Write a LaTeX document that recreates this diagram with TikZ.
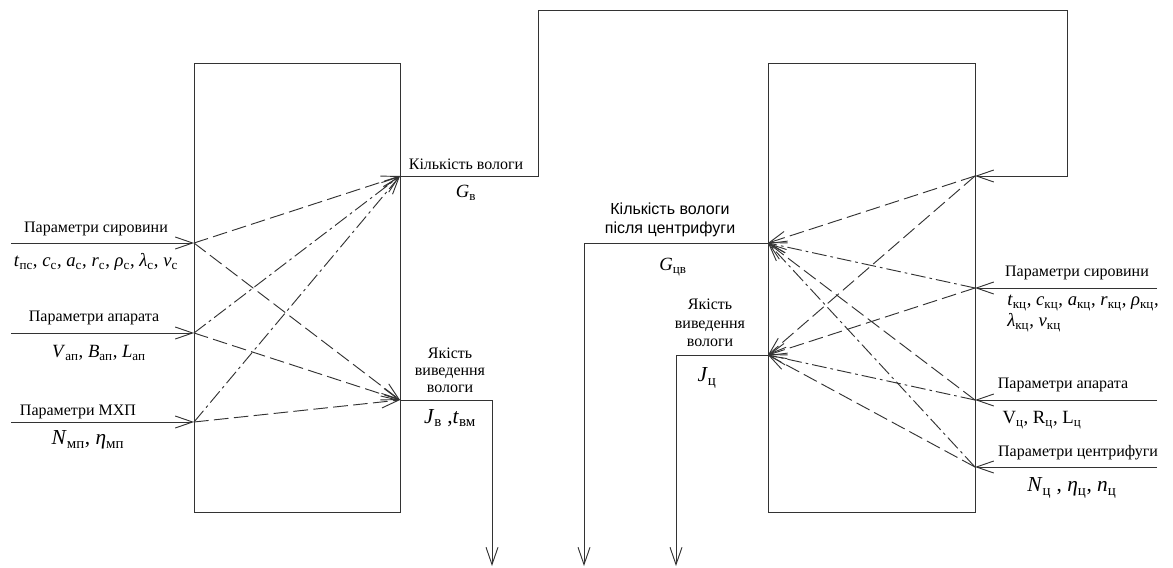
\documentclass[tikz,border=0pt]{standalone}
\usepackage{fontspec}
\setmainfont{Liberation Serif}
\newfontfamily\arialfont{Liberation Sans}
\usepackage{tikz}
\usetikzlibrary{arrows.meta}
\tikzstyle{block} = [rectangle, draw=black!80, line width=0.7pt, inner sep=0pt]
\tikzstyle{line} = [draw=black!80, line width=0.7pt, -{Straight Barb[length=13pt,width=9pt]}]
\tikzstyle{wire} = [draw=black!80, line width=0.7pt]
\tikzstyle{link} = [line, dash pattern=on 11pt off 4pt]
\tikzstyle{linkdot} = [line, dash pattern=on 11pt off 3pt on 2pt off 3pt]
\tikzstyle{txt} = [inner sep=0pt, font=\fontsize{12}{13}\selectfont]
\tikzstyle{param} = [inner sep=0pt, font=\fontsize{14}{15.75}\selectfont]
\tikzstyle{bigparam} = [inner sep=0pt, font=\fontsize{16}{18}\selectfont]
\newcommand{\ix}[2]{\textit{#1}\textsubscript{#2}}

\begin{document}
\begin{tikzpicture}[x=0.75pt, y=-0.75pt]
    \useasboundingbox (0,0) rectangle (1173,567);
    % Place nodes
    \node [block, minimum width=154.5pt, minimum height=336.75pt] (dryer) at (297,287.5) {};
    \node [block, minimum width=155.25pt, minimum height=336.75pt] (centrifuge) at (871.5,287.5) {};

    % ports of the dryer
    \coordinate (dIn1) at (194,243);
    \coordinate (dIn2) at (194,333);
    \coordinate (dIn3) at (194,422);
    \coordinate (dOut1) at (400,176);
    \coordinate (dOut2) at (400,400);
    % ports of the centrifuge
    \coordinate (cIn0) at (975,176);
    \coordinate (cIn1) at (975,288);
    \coordinate (cIn2) at (975,400);
    \coordinate (cIn3) at (975,467);
    \coordinate (cOut1) at (768,243);
    \coordinate (cOut2) at (768,355);
    % free ends
    \coordinate (dSrc1) at (11,243);
    \coordinate (dSrc2) at (11,333);
    \coordinate (dSrc3) at (11,422);
    \coordinate (cSrc1) at (1157,288);
    \coordinate (cSrc2) at (1157,400);
    \coordinate (cSrc3) at (1157,467);
    \coordinate (fbA) at (538,176);
    \coordinate (fbB) at (538,10);
    \coordinate (fbC) at (1067,10);
    \coordinate (fbD) at (1067,176);
    \coordinate (dDrop) at (492,400);
    \coordinate (dEnd) at (492,566);
    \coordinate (cDrop1) at (584,243);
    \coordinate (cEnd1) at (584,566);
    \coordinate (cDrop2) at (676,355);
    \coordinate (cEnd2) at (676,566);

    % texts, left
    \node [txt] (rawL) at (96,229) {Параметри сировини};
    \node [param] (rawLp) at (96,262) {\ix{t}{пс}, \ix{c}{с}, \ix{a}{с}, \ix{r}{с}, \ix{ρ}{с}, \ix{λ}{с}, \ix{v}{с}};
    \node [txt] (appL) at (94,318) {Параметри апарата};
    \node [param] (appLp) at (99,353) {\ix{V}{ап}, \ix{B}{ап}, \ix{L}{ап}};
    \node [txt] (mxpL) at (78,412) {Параметри МХП};
    \node [bigparam] (mxpLp) at (88,440) {\ix{N}{мп}, \ix{η}{мп}};
    \node [txt] (wetL) at (466,164) {Кількість вологи};
    \node [param] (wetLp) at (466,193) {\ix{G}{в}};
    \node [txt, align=center, font=\fontsize{12}{12.75}\selectfont] (qualL) at (450,370) {Якість\\виведення\\вологи};
    \node [bigparam] (qualLp) at (450,418) {\ix{J}{в} ,\ix{t}{вм}};
    % texts, right
    \node [txt, align=center, font=\arialfont\fontsize{12}{14.25}\selectfont] (wetC) at (670,220) {Кількість вологи\\після центрифуги};
    \node [param] (wetCp) at (673,267) {\ix{G}{цв}};
    \node [txt, align=center, font=\fontsize{12}{13.9}\selectfont] (qualC) at (710,323) {Якість\\виведення\\вологи};
    \node [bigparam] (qualCp) at (707,378) {\ix{J}{ц}};
    \node [txt] (rawR) at (1077,273) {Параметри сировини};
    \node [param, align=left, anchor=north west] (rawRp) at (1007,295) {\ix{t}{кц}, \ix{c}{кц}, \ix{a}{кц}, \ix{r}{кц}, \ix{ρ}{кц},\\\ix{λ}{кц}, \ix{v}{кц}};
    \node [txt] (appR) at (1063,385) {Параметри апарата};
    \node [param] (appRp) at (1042,420) {V\textsubscript{ц}, R\textsubscript{ц}, L\textsubscript{ц}};
    \node [txt] (cenR) at (1078,453) {Параметри центрифуги};
    \node [bigparam] (cenRp) at (1072,488) {\ix{N}{ц} , \ix{η}{ц}, \ix{n}{ц}};

    % Draw edges
    \path [line] (dSrc1) -- (dIn1);
    \path [line] (dSrc2) -- (dIn2);
    \path [line] (dSrc3) -- (dIn3);
    \path [line] (dOut1) -- (fbA) -- (fbB) -- (fbC) -- (fbD) -- (cIn0);
    \path [line] (dOut2) -- (dDrop) -- (dEnd);
    \path [line] (cOut1) -- (cDrop1) -- (cEnd1);
    \path [line] (cOut2) -- (cDrop2) -- (cEnd2);
    \path [line] (cSrc1) -- (cIn1);
    \path [line] (cSrc2) -- (cIn2);
    \path [line] (cSrc3) -- (cIn3);

    % links inside the dryer
    \path [link] (dIn1) -- (dOut1);
    \path [link] (dIn1) -- (dOut2);
    \path [linkdot] (dIn2) -- (dOut1);
    \path [link] (dIn2) -- (dOut2);
    \path [linkdot] (dIn3) -- (dOut1);
    \path [link] (dIn3) -- (dOut2);
    % links inside the centrifuge
    \path [link] (cIn0) -- (cOut1);
    \path [link] (cIn0) -- (cOut2);
    \path [linkdot] (cIn1) -- (cOut1);
    \path [link] (cIn1) -- (cOut2);
    \path [link] (cIn2) -- (cOut1);
    \path [linkdot] (cIn2) -- (cOut2);
    \path [linkdot] (cIn3) -- (cOut1);
    \path [link] (cIn3) -- (cOut2);
\end{tikzpicture}
\end{document}
